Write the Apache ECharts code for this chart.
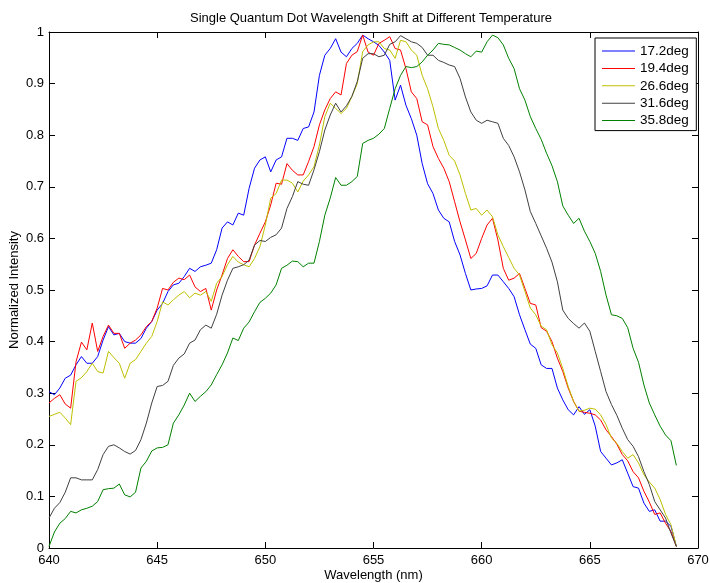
<!DOCTYPE html>
<html>
<head>
<meta charset="utf-8">
<script src="https://cdn.jsdelivr.net/npm/echarts@6/dist/echarts.min.js"></script>
<style>html,body{margin:0;padding:0;background:#fff;}#chart{width:710px;height:583px;}</style>
</head>
<body>
<div id="chart"></div>
<script>
// Wavelength grid (nm), 0.25 nm steps, 640 .. 669
const wavelength = [
  640, 640.25, 640.5, 640.75, 641, 641.25, 641.5, 641.75, 642, 642.25, 642.5, 642.75,
  643, 643.25, 643.5, 643.75, 644, 644.25, 644.5, 644.75, 645, 645.25, 645.5, 645.75,
  646, 646.25, 646.5, 646.75, 647, 647.25, 647.5, 647.75, 648, 648.25, 648.5, 648.75,
  649, 649.25, 649.5, 649.75, 650, 650.25, 650.5, 650.75, 651, 651.25, 651.5, 651.75,
  652, 652.25, 652.5, 652.75, 653, 653.25, 653.5, 653.75, 654, 654.25, 654.5, 654.75,
  655, 655.25, 655.5, 655.75, 656, 656.25, 656.5, 656.75, 657, 657.25, 657.5, 657.75,
  658, 658.25, 658.5, 658.75, 659, 659.25, 659.5, 659.75, 660, 660.25, 660.5, 660.75,
  661, 661.25, 661.5, 661.75, 662, 662.25, 662.5, 662.75, 663, 663.25, 663.5, 663.75,
  664, 664.25, 664.5, 664.75, 665, 665.25, 665.5, 665.75, 666, 666.25, 666.5, 666.75,
  667, 667.25, 667.5, 667.75, 668, 668.25, 668.5, 668.75, 669
];

const names = ['17.2deg', '19.4deg', '26.6deg', '31.6deg', '35.8deg'];
const colors = ['#0000ff', '#ff0000', '#bfbf00', '#404040', '#008000'];

const t172 = [
  0.303, 0.297, 0.310, 0.329,
  0.335, 0.355, 0.371, 0.358,
  0.358, 0.371, 0.403, 0.429,
  0.413, 0.416, 0.400, 0.397,
  0.397, 0.406, 0.426, 0.439,
  0.461, 0.474, 0.497, 0.510,
  0.513, 0.526, 0.542, 0.536,
  0.545, 0.548, 0.552, 0.578,
  0.620, 0.632, 0.626, 0.649,
  0.645, 0.697, 0.736, 0.752,
  0.758, 0.729, 0.752, 0.758,
  0.794, 0.794, 0.790, 0.813,
  0.816, 0.845, 0.916, 0.955,
  0.968, 0.987, 0.961, 0.952,
  0.968, 0.978, 0.994, 0.987,
  0.981, 0.974, 0.961, 0.945,
  0.868, 0.897, 0.858, 0.832,
  0.800, 0.745, 0.706, 0.687,
  0.655, 0.639, 0.632, 0.594,
  0.568, 0.532, 0.500, 0.502,
  0.503, 0.508, 0.529, 0.529,
  0.516, 0.503, 0.487, 0.452,
  0.423, 0.395, 0.387, 0.355,
  0.348, 0.348, 0.310, 0.287,
  0.268, 0.258, 0.274, 0.259,
  0.268, 0.236, 0.187, 0.174,
  0.161, 0.165, 0.171, 0.145,
  0.119, 0.116, 0.087, 0.071,
  0.074, 0.052, 0.052, 0.042,
  0.003
];

const t194 = [
  0.281, 0.290, 0.297, 0.279,
  0.271, 0.361, 0.399, 0.384,
  0.436, 0.381, 0.410, 0.432,
  0.416, 0.416, 0.387, 0.397,
  0.403, 0.413, 0.429, 0.439,
  0.465, 0.503, 0.500, 0.515,
  0.523, 0.520, 0.529, 0.506,
  0.497, 0.503, 0.461, 0.500,
  0.529, 0.561, 0.578, 0.565,
  0.555, 0.555, 0.587, 0.610,
  0.632, 0.665, 0.707, 0.705,
  0.745, 0.732, 0.723, 0.723,
  0.749, 0.778, 0.820, 0.849,
  0.871, 0.884, 0.878, 0.939,
  0.955, 0.962, 0.994, 0.961,
  0.955, 0.978, 0.984, 0.991,
  0.968, 0.965, 0.929, 0.884,
  0.871, 0.826, 0.820, 0.778,
  0.755, 0.736, 0.710, 0.671,
  0.632, 0.597, 0.561, 0.571,
  0.600, 0.626, 0.639, 0.597,
  0.542, 0.519, 0.523, 0.532,
  0.503, 0.474, 0.471, 0.427,
  0.420, 0.400, 0.368, 0.342,
  0.310, 0.284, 0.265, 0.263,
  0.261, 0.258, 0.248, 0.229,
  0.216, 0.201, 0.181, 0.169,
  0.148, 0.136, 0.110, 0.089,
  0.065, 0.068, 0.048, 0.032,
  0.003
];

const t266 = [
  0.255, 0.259, 0.263, 0.252,
  0.239, 0.323, 0.330, 0.342,
  0.358, 0.342, 0.339, 0.381,
  0.369, 0.358, 0.329, 0.358,
  0.365, 0.381, 0.397, 0.410,
  0.439, 0.477, 0.471, 0.481,
  0.490, 0.497, 0.485, 0.494,
  0.490, 0.497, 0.478, 0.513,
  0.526, 0.549, 0.565, 0.554,
  0.549, 0.545, 0.561, 0.584,
  0.626, 0.678, 0.687, 0.713,
  0.713, 0.707, 0.690, 0.711,
  0.723, 0.739, 0.781, 0.836,
  0.862, 0.852, 0.842, 0.852,
  0.875, 0.900, 0.962, 0.975,
  0.981, 0.981, 0.968, 0.965,
  0.949, 0.984, 0.981, 0.965,
  0.955, 0.916, 0.890, 0.855,
  0.813, 0.790, 0.761, 0.750,
  0.723, 0.687, 0.655, 0.658,
  0.645, 0.655, 0.642, 0.607,
  0.584, 0.563, 0.542, 0.529,
  0.497, 0.465, 0.452, 0.430,
  0.423, 0.394, 0.378, 0.348,
  0.313, 0.284, 0.265, 0.267,
  0.271, 0.269, 0.258, 0.239,
  0.213, 0.203, 0.187, 0.174,
  0.181, 0.165, 0.142, 0.128,
  0.116, 0.094, 0.065, 0.045,
  0.003
];

const t316 = [
  0.058, 0.077, 0.088, 0.108,
  0.136, 0.136, 0.132, 0.132,
  0.132, 0.152, 0.181, 0.197,
  0.200, 0.194, 0.187, 0.182,
  0.189, 0.210, 0.242, 0.281,
  0.313, 0.315, 0.323, 0.354,
  0.368, 0.376, 0.397, 0.403,
  0.423, 0.432, 0.426, 0.453,
  0.490, 0.519, 0.542, 0.545,
  0.549, 0.558, 0.587, 0.596,
  0.594, 0.602, 0.607, 0.620,
  0.658, 0.681, 0.710, 0.705,
  0.703, 0.733, 0.768, 0.810,
  0.839, 0.862, 0.845, 0.857,
  0.875, 0.904, 0.949, 0.958,
  0.958, 0.952, 0.955, 0.976,
  0.981, 0.993, 0.987, 0.981,
  0.978, 0.970, 0.955, 0.955,
  0.945, 0.941, 0.936, 0.933,
  0.910, 0.874, 0.845, 0.829,
  0.823, 0.829, 0.826, 0.823,
  0.794, 0.780, 0.758, 0.729,
  0.694, 0.652, 0.629, 0.605,
  0.581, 0.554, 0.516, 0.461,
  0.445, 0.435, 0.426, 0.436,
  0.420, 0.381, 0.342, 0.303,
  0.278, 0.257, 0.232, 0.210,
  0.197, 0.177, 0.148, 0.123,
  0.090, 0.074, 0.058, 0.029,
  0.003
];

const t358 = [
  0.003, 0.031, 0.048, 0.057,
  0.071, 0.068, 0.074, 0.077,
  0.081, 0.090, 0.113, 0.115,
  0.116, 0.124, 0.103, 0.099,
  0.108, 0.155, 0.168, 0.188,
  0.194, 0.195, 0.200, 0.242,
  0.258, 0.277, 0.300, 0.284,
  0.294, 0.303, 0.316, 0.336,
  0.355, 0.378, 0.407, 0.402,
  0.426, 0.438, 0.458, 0.476,
  0.484, 0.494, 0.510, 0.542,
  0.548, 0.556, 0.555, 0.545,
  0.552, 0.552, 0.594, 0.645,
  0.678, 0.718, 0.703, 0.703,
  0.710, 0.720, 0.784, 0.790,
  0.794, 0.802, 0.813, 0.852,
  0.890, 0.916, 0.933, 0.931,
  0.933, 0.942, 0.955, 0.965,
  0.978, 0.976, 0.975, 0.970,
  0.965, 0.958, 0.952, 0.963,
  0.961, 0.981, 0.994, 0.989,
  0.975, 0.949, 0.929, 0.890,
  0.868, 0.836, 0.813, 0.792,
  0.765, 0.741, 0.710, 0.663,
  0.645, 0.629, 0.639, 0.614,
  0.594, 0.571, 0.536, 0.490,
  0.452, 0.450, 0.445, 0.427,
  0.387, 0.360, 0.316, 0.281,
  0.258, 0.236, 0.219, 0.208,
  0.160
];

const seriesValues = [t172, t194, t266, t316, t358];

const FONT = '"Liberation Sans", Arial, Helvetica, sans-serif';
const chart = echarts.init(document.getElementById('chart'), null, { renderer: 'canvas' });

const axisCommon = {
  axisLine: { show: true, onZero: false, lineStyle: { color: '#000', width: 1 } },
  axisTick: { show: true, inside: true, length: 6, lineStyle: { color: '#000', width: 1 } },
  splitLine: { show: false }
};

chart.setOption({
  animation: false,
  backgroundColor: '#fff',
  title: {
    text: 'Single Quantum Dot Wavelength Shift at Different Temperature',
    left: 190, top: 12, padding: 0,
    textStyle: { fontFamily: FONT, fontSize: 13, fontWeight: 'normal', color: '#000' }
  },
  grid: { left: 49, right: 12, top: 32, bottom: 35, containLabel: false, outerBoundsMode: 'none' },
  legend: {
    orient: 'vertical',
    left: 595, top: 38,
    padding: [6, 7.5, 3, 7],
    icon: 'rect',
    itemWidth: 33, itemHeight: 1, itemGap: 3.4,
    backgroundColor: '#fff',
    borderColor: '#000', borderWidth: 1, borderRadius: 0,
    textStyle: { fontFamily: FONT, fontSize: 13.5, lineHeight: 14, color: '#000' },
    data: names
  },
  xAxis: [
    Object.assign({
      type: 'value', position: 'bottom', min: 640, max: 670, interval: 5,
      name: 'Wavelength (nm)', nameLocation: 'middle', nameGap: 21, nameMoveOverlap: false,
      nameTextStyle: { fontFamily: FONT, fontSize: 13, color: '#000' },
      axisLabel: { fontFamily: FONT, fontSize: 13, color: '#000', margin: 6 }
    }, axisCommon),
    Object.assign({
      type: 'value', position: 'top', min: 640, max: 670, interval: 5,
      axisLabel: { show: false }
    }, axisCommon)
  ],
  yAxis: [
    Object.assign({
      type: 'value', position: 'left', min: 0, max: 1, interval: 0.1,
      name: 'Normalized Intensity', nameLocation: 'middle', nameGap: 28, nameRotate: 90,
      nameMoveOverlap: false,
      nameTextStyle: { fontFamily: FONT, fontSize: 13, color: '#000' },
      axisLabel: {
        fontFamily: FONT, fontSize: 13, color: '#000', margin: 5,
        formatter: function (v) { return String(+v.toFixed(1)); }
      }
    }, axisCommon),
    Object.assign({
      type: 'value', position: 'right', min: 0, max: 1, interval: 0.1,
      axisLabel: { show: false }
    }, axisCommon)
  ],
  series: names.map(function (n, k) {
    return {
      name: n, type: 'line', xAxisIndex: 0, yAxisIndex: 0,
      symbol: 'none', showSymbol: false, clip: true,
      color: colors[k],
      lineStyle: { color: colors[k], width: 1 },
      data: wavelength.map(function (w, i) { return [w, seriesValues[k][i]]; })
    };
  })
});
</script>
</body>
</html>
